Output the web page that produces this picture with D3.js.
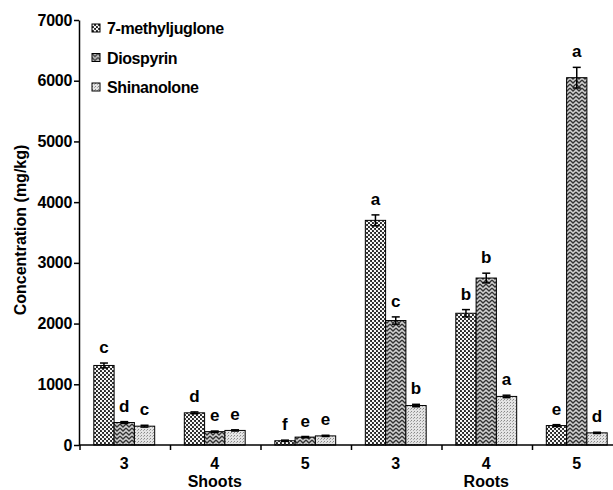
<!DOCTYPE html>
<html>
<head>
<meta charset="utf-8">
<script src="https://cdn.jsdelivr.net/npm/d3@7"></script>
<style>
  body { margin: 0; background: #fff; }
  svg { display: block; font-family: "Liberation Sans", Arial, sans-serif; font-weight: bold; }
</style>
</head>
<body>
<svg id="chart" width="613" height="490"></svg>
<script>
// data
const groups = ["s3", "s4", "s5", "r3", "r4", "r5"];
const groupLabels = ["3", "4", "5", "3", "4", "5"];
const tissues = ["Shoots", "Roots"];
const series = ["7-methyljuglone", "Diospyrin", "Shinanolone"];

const methyljuglone = [1310, 530, 70, 3700, 2170, 320];
const diospyrin = [370, 220, 130, 2050, 2750, 6050];
const shinanolone = [310, 240, 150, 650, 800, 200];

const errMethyl = [40, 15, 10, 90, 60, 15];
const errDiosp = [15, 10, 10, 60, 80, 170];
const errShina = [15, 10, 10, 20, 20, 10];

const letMethyl = ["c", "d", "f", "a", "b", "e"];
const letDiosp = ["d", "e", "e", "c", "b", "a"];
const letShina = ["c", "e", "e", "b", "a", "d"];

const yTicks = [0, 1000, 2000, 3000, 4000, 5000, 6000, 7000];

const values = [methyljuglone, diospyrin, shinanolone];
const errors = [errMethyl, errDiosp, errShina];
const letters = [letMethyl, letDiosp, letShina];

const svg = d3.select("#chart");
const mLeft = 79, mBottom = 445, mTop = 20, groupW = 90.5;

const y = d3.scaleLinear().domain([0, 7000]).range([mBottom, mTop]);
const x0 = d3.scaleBand().domain(groups).range([mLeft, mLeft + groups.length * groupW]);
const x1 = d3.scaleBand().domain(series).range([0, x0.bandwidth()]).paddingOuter(0.73);

// fill patterns
const defs = svg.append("defs");
const p1 = defs.append("pattern").attr("id", "pat0").attr("patternUnits", "userSpaceOnUse")
  .attr("width", 4).attr("height", 4);
p1.append("rect").attr("width", 4).attr("height", 4).attr("fill", "#222");
p1.append("circle").attr("cx", 1).attr("cy", 1).attr("r", 1.2).attr("fill", "#fff");
p1.append("circle").attr("cx", 3).attr("cy", 3).attr("r", 1.2).attr("fill", "#fff");

const p2 = defs.append("pattern").attr("id", "pat1").attr("patternUnits", "userSpaceOnUse")
  .attr("width", 6).attr("height", 4);
p2.append("rect").attr("width", 6).attr("height", 4).attr("fill", "#d0d0d0");
p2.append("path").attr("d", "M0,0 L3,3 L6,0 M0,4 L3,7 L6,4 M0,-4 L3,-1 L6,-4")
  .attr("stroke", "#333").attr("stroke-width", 1.3).attr("fill", "none");

const p3 = defs.append("pattern").attr("id", "pat2").attr("patternUnits", "userSpaceOnUse")
  .attr("width", 3).attr("height", 3);
p3.append("rect").attr("width", 3).attr("height", 3).attr("fill", "#e4e4e4");
p3.append("rect").attr("x", 0).attr("y", 0).attr("width", 1).attr("height", 1).attr("fill", "#888");
p3.append("rect").attr("x", 2).attr("y", 1).attr("width", 1).attr("height", 1).attr("fill", "#aaa");

// bars
const rows = [];
groups.forEach((g, gi) => {
  series.forEach((s, si) => {
    rows.push({ g, s, si, v: values[si][gi], e: errors[si][gi], l: letters[si][gi] });
  });
});

const bars = svg.append("g");
bars.selectAll("rect").data(rows).join("rect")
  .attr("x", d => x0(d.g) + x1(d.s))
  .attr("y", d => y(d.v))
  .attr("width", x1.bandwidth())
  .attr("height", d => y(0) - y(d.v))
  .attr("fill", d => `url(#pat${d.si})`)
  .attr("stroke", "#000").attr("stroke-width", 1);

// error bars
const eb = svg.append("g").attr("stroke", "#000").attr("stroke-width", 1.5);
rows.forEach(d => {
  const cx = x0(d.g) + x1(d.s) + x1.bandwidth() / 2;
  eb.append("line").attr("x1", cx).attr("x2", cx).attr("y1", y(d.v - d.e)).attr("y2", y(d.v + d.e));
  eb.append("line").attr("x1", cx - 4).attr("x2", cx + 4).attr("y1", y(d.v + d.e)).attr("y2", y(d.v + d.e));
  eb.append("line").attr("x1", cx - 4).attr("x2", cx + 4).attr("y1", y(d.v - d.e)).attr("y2", y(d.v - d.e));
});

// significance letters
svg.append("g").selectAll("text").data(rows).join("text")
  .attr("x", d => x0(d.g) + x1(d.s) + x1.bandwidth() / 2)
  .attr("y", d => y(d.v + d.e) - 10)
  .attr("text-anchor", "middle")
  .attr("font-size", 17)
  .text(d => d.l);

// y axis
const yAxis = svg.append("g").attr("transform", `translate(${mLeft},0)`)
  .call(d3.axisLeft(y).tickValues(yTicks).tickFormat(d3.format("d"))
    .tickSize(5).tickPadding(2).tickSizeOuter(0));
yAxis.select(".domain").attr("stroke-width", 1.5);
yAxis.selectAll(".tick line").attr("stroke-width", 1.5);
yAxis.selectAll("text").attr("font-size", 16).attr("font-weight", "bold")
  .attr("font-family", "Liberation Sans, Arial, sans-serif").attr("fill", "#000")
  .attr("letter-spacing", -0.3);

// x axis
svg.append("line").attr("x1", mLeft).attr("x2", 613).attr("y1", mBottom).attr("y2", mBottom)
  .attr("stroke", "#000").attr("stroke-width", 1.5);
svg.append("g").selectAll("line").data(groups).join("line")
  .attr("x1", d => x0(d) + 1).attr("x2", d => x0(d) + 1)
  .attr("y1", mBottom).attr("y2", mBottom + 5)
  .attr("stroke", "#000").attr("stroke-width", 1.5);
svg.append("g").selectAll("text").data(groups).join("text")
  .attr("x", d => x0(d) + x0.bandwidth() / 2)
  .attr("y", 469)
  .attr("text-anchor", "middle").attr("font-size", 16)
  .text((d, i) => groupLabels[i]);
svg.append("g").selectAll("text").data(tissues).join("text")
  .attr("x", (d, i) => x0(groups[i * 3 + 1]) + x0.bandwidth() / 2)
  .attr("y", 487)
  .attr("text-anchor", "middle").attr("font-size", 16)
  .text(d => d);

// y label
svg.append("text")
  .attr("transform", "translate(26,230) rotate(-90)")
  .attr("text-anchor", "middle").attr("font-size", 16)
  .text("Concentration (mg/kg)");

// legend
const legend = svg.append("g").selectAll("g").data(series).join("g")
  .attr("transform", (d, i) => `translate(92,${24 + i * 29.5})`);
legend.append("rect").attr("width", 8).attr("height", 8)
  .attr("fill", (d, i) => `url(#pat${i})`).attr("stroke", "#000").attr("stroke-width", 1);
legend.append("text").attr("x", 15).attr("y", 10).attr("font-size", 16)
  .attr("letter-spacing", -0.4).text(d => d);
</script>
</body>
</html>
